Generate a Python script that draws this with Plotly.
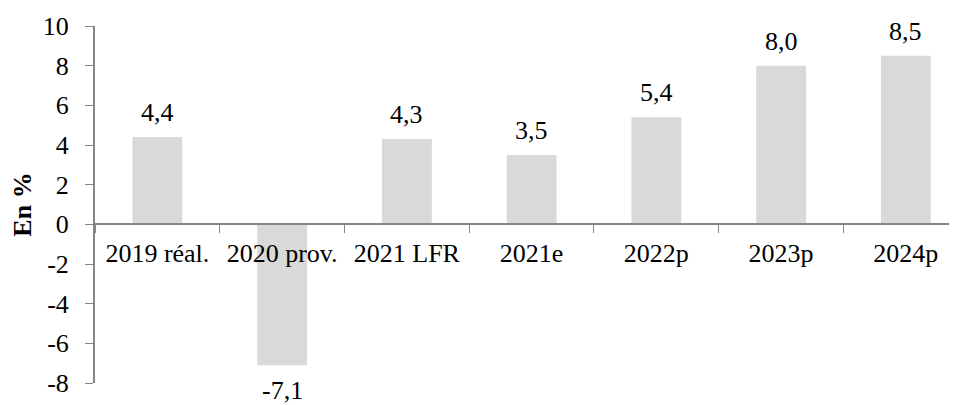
import plotly.graph_objects as go

categories = ["2019 réal.", "2020 prov.", "2021 LFR", "2021e", "2022p", "2023p", "2024p"]
values = [4.4, -7.1, 4.3, 3.5, 5.4, 8.0, 8.5]
y_ticks = [-8, -6, -4, -2, 0, 2, 4, 6, 8, 10]
y_ticktext = ["-8", "-6", "-4", "-2", "0", "2", "4", "6", "8", "10"]

FONT = "Liberation Serif, Times New Roman, serif"
AXIS_GREY = "#868686"
SIZE = 26

fig = go.Figure(
    go.Bar(
        x=categories,
        y=values,
        width=0.4,
        marker=dict(color="#d9d9d9", line=dict(width=0)),
        hoverinfo="skip",
    )
)

# value labels, French style with hyphen minus and decimal comma
for cat, val in zip(categories, values):
    label = f"{val:.1f}".replace(".", ",")
    fig.add_annotation(
        x=cat,
        y=val,
        text=label,
        showarrow=False,
        yanchor="bottom" if val >= 0 else "top",
        yshift=8 if val >= 0 else -9,
        font=dict(family=FONT, size=SIZE, color="black"),
    )

# the page adds an 8px body margin, so margins are trimmed to compensate
fig.update_layout(
    width=957,
    height=405,
    margin=dict(l=87, r=8, t=18, b=30, autoexpand=False),
    plot_bgcolor="white",
    paper_bgcolor="white",
    showlegend=False,
    font=dict(family=FONT, size=SIZE, color="black"),
    xaxis=dict(
        type="category",
        range=[-0.5, 6.41],
        anchor="free",
        position=8 / 18,
        showline=True,
        linecolor=AXIS_GREY,
        linewidth=2,
        ticks="outside",
        tickson="boundaries",
        ticklen=8,
        tickcolor=AXIS_GREY,
        ticklabelstandoff=5,
        showgrid=False,
        automargin=False,
        tickfont=dict(family=FONT, size=SIZE),
    ),
    yaxis=dict(
        range=[-8, 10],
        tickvals=y_ticks,
        ticktext=y_ticktext,
        showline=True,
        linecolor=AXIS_GREY,
        linewidth=2,
        ticks="outside",
        ticklen=8,
        tickcolor=AXIS_GREY,
        ticklabelstandoff=11,
        showgrid=False,
        zeroline=False,
        automargin=False,
        title=dict(text="<b>En %</b>", font=dict(family=FONT, size=SIZE), standoff=6),
        tickfont=dict(family=FONT, size=SIZE),
    ),
)

fig.write_html("out.html")
